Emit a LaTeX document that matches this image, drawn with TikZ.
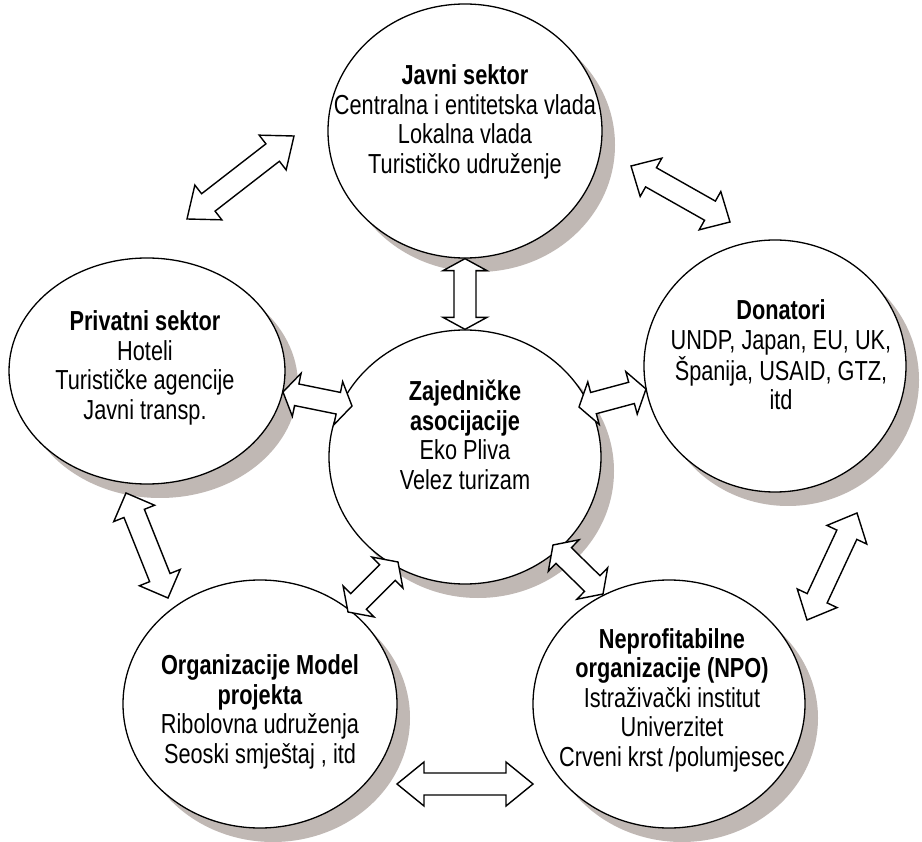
\documentclass[tikz,border=0pt]{standalone}
\usepackage{fontspec}
\setmainfont{Liberation Sans}[FakeStretch=0.79]
\usetikzlibrary{calc, shapes.geometric}
\definecolor{shadowgray}{RGB}{192,184,180}

% double-headed block arrow between two points, optional head length
\newcommand{\dblarrow}[3][27]{%
  \coordinate (ha) at ($(#2)!#1pt!(#3)$);
  \coordinate (hb) at ($(#3)!#1pt!(#2)$);
  \draw[blockarrow] (#2)
    -- ($(ha)!22pt!90:(#3)$) -- ($(ha)!11pt!90:(#3)$)
    -- ($(hb)!11pt!-90:(#2)$) -- ($(hb)!22pt!-90:(#2)$)
    -- (#3)
    -- ($(hb)!22pt!90:(#2)$) -- ($(hb)!11pt!90:(#2)$)
    -- ($(ha)!11pt!-90:(#3)$) -- ($(ha)!22pt!-90:(#3)$)
    -- cycle;}

\begin{document}
\begin{tikzpicture}[x=1pt, y=-1pt,
    bubble/.style={ellipse, draw, line width=1.3pt, fill=white, inner sep=0pt},
    bubbletext/.style={align=center, inner sep=0pt, font=\fontsize{27.5}{29.5}\selectfont},
    blockarrow/.style={draw, fill=white, line width=1.4pt, line join=miter}]
  \useasboundingbox[fill=white] (0,0) rectangle (922,842);

  % Shadows
  \foreach \cx/\cy/\rx/\ry in {465/131/137/127, 147/371/138/113, 465/457/136/127,
                               775/366/131/126, 260/704/137/124, 669/704/136/124}
    \fill[shadowgray] (\cx+13,\cy+14) ellipse ({\rx} and {\ry});

  % Ellipses
  \node[bubble, minimum width=274pt, minimum height=254pt] (javni) at (465,131) {};
  \node[bubble, minimum width=276pt, minimum height=226pt] (privat) at (147,371) {};
  \node[bubble, minimum width=272pt, minimum height=254pt] (zaj) at (465,457) {};
  \node[bubble, minimum width=262pt, minimum height=252pt] (donor) at (775,366) {};
  \node[bubble, minimum width=274pt, minimum height=248pt] (org) at (260,704) {};
  \node[bubble, minimum width=272pt, minimum height=248pt] (npo) at (669,704) {};

  % Arrow end points
  \coordinate (jp1) at (294,136);  \coordinate (jp2) at (187,219);
  \coordinate (jd1) at (631,166);  \coordinate (jd2) at (730,222);
  \coordinate (pz1) at (283,392);  \coordinate (pz2) at (352,406);
  \coordinate (zd1) at (579,407);  \coordinate (zd2) at (646,389);
  \coordinate (po1) at (126,493);  \coordinate (po2) at (168,598);
  \coordinate (oz1) at (348,612);  \coordinate (oz2) at (398,562);
  \coordinate (zn1) at (553,545);  \coordinate (zn2) at (603,594);
  \coordinate (dn1) at (857,513);  \coordinate (dn2) at (807,620);
  \coordinate (on1) at (397,784);  \coordinate (on2) at (533,784);

  % Arrows
  \dblarrow{jp1}{jp2}
  \dblarrow[23]{jd1}{jd2}
  \dblarrow[12]{javni.south}{zaj.north}
  \dblarrow[14]{pz1}{pz2}
  \dblarrow[15]{zd1}{zd2}
  \dblarrow[22]{po1}{po2}
  \dblarrow[15]{oz1}{oz2}
  \dblarrow[15]{zn1}{zn2}
  \dblarrow[24]{dn1}{dn2}
  \dblarrow{on1}{on2}

  % Texts
  \node[bubbletext] (javnitxt) at (465,122)
    {\textbf{Javni sektor}\\Centralna i entitetska vlada\\Lokalna vlada\\Turističko udruženje};
  \node[bubbletext] (privattxt) at (145,368)
    {\textbf{Privatni sektor}\\Hoteli\\Turističke agencije\\Javni transp.};
  \node[bubbletext] (zajtxt) at (465,435)
    {\textbf{Zajedničke}\\\textbf{asocijacije}\\Eko Pliva\\Velez turizam};
  \node[bubbletext] (donortxt) at (781,355)
    {\textbf{Donatori}\\UNDP, Japan, EU, UK,\\Španija, USAID, GTZ,\\itd};
  \node[bubbletext] (orgtxt) at (260,712)
    {\textbf{Organizacije Model}\\\textbf{projekta}\\Ribolovna udruženja\\Seoski smještaj , itd};
  \node[bubbletext] (npotxt) at (672,700)
    {\textbf{Neprofitabilne}\\\textbf{organizacije (NPO)}\\Istraživački institut\\Univerzitet\\Crveni krst /polumjesec};
\end{tikzpicture}
\end{document}
